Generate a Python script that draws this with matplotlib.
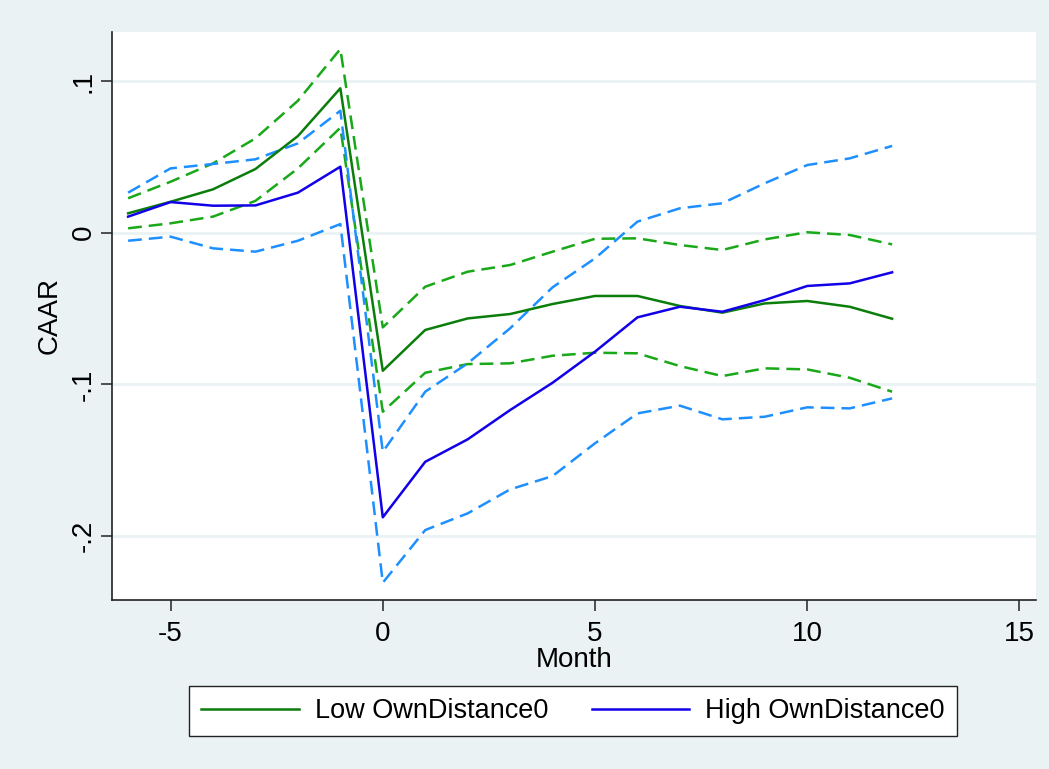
import matplotlib.pyplot as plt
from matplotlib.lines import Line2D

plt.rcParams['font.family'] = ['Liberation Sans', 'DejaVu Sans']
plt.rcParams['axes.unicode_minus'] = False

months = [-6, -5, -4, -3, -2, -1, 0, 1, 2, 3, 4, 5, 6, 7, 8, 9, 10, 11, 12]

# Low OwnDistance0: CAAR with upper / lower band
low_caar = [0.0128, 0.0204, 0.0286, 0.0420, 0.0637, 0.0952, -0.0910, -0.0641, -0.0565,
            -0.0536, -0.0470, -0.0417, -0.0417, -0.0483, -0.0527, -0.0466, -0.0450, -0.0488, -0.0567]
low_hi = [0.0227, 0.0336, 0.0457, 0.0622, 0.0870, 0.1211, -0.0624, -0.0356, -0.0257,
          -0.0213, -0.0125, -0.0040, -0.0037, -0.0081, -0.0114, -0.0044, 0.0003, -0.0015, -0.0077]
low_lo = [0.0029, 0.0062, 0.0106, 0.0210, 0.0424, 0.0692, -0.1180, -0.0923, -0.0866,
          -0.0861, -0.0811, -0.0791, -0.0795, -0.0879, -0.0945, -0.0894, -0.0901, -0.0956, -0.1048]

# High OwnDistance0
high_caar = [0.0106, 0.0202, 0.0178, 0.0180, 0.0264, 0.0435, -0.1876, -0.1510, -0.1362,
             -0.1169, -0.0989, -0.0784, -0.0558, -0.0488, -0.0521, -0.0444, -0.0351, -0.0334, -0.0261]
high_hi = [0.0264, 0.0424, 0.0453, 0.0484, 0.0589, 0.0804, -0.1444, -0.1048, -0.0861,
           -0.0630, -0.0360, -0.0169, 0.0073, 0.0161, 0.0194, 0.0326, 0.0446, 0.0490, 0.0572]
high_lo = [-0.0053, -0.0026, -0.0103, -0.0125, -0.0053, 0.0057, -0.2307, -0.1960, -0.1850,
           -0.1692, -0.1604, -0.1388, -0.1191, -0.1140, -0.1230, -0.1213, -0.1151, -0.1158, -0.1092]

xticks = [-5, 0, 5, 10, 15]
yticks = [-0.2, -0.1, 0, 0.1]
ytick_labels = ['-.2', '-.1', '0', '.1']

bg = '#EAF2F3'
c_low = '#0B7D0B'
c_low_ci = '#18A818'
c_high = '#1200E8'
c_high_ci = '#1E8FFF'
fs = 20

fig = plt.figure(figsize=(10.49, 7.69), dpi=100, facecolor=bg)
ax = fig.add_axes([112 / 1049, 1 - 600 / 769, (1036 - 112) / 1049, (600 - 32) / 769])
ax.set_facecolor('white')

lw = 1.8
dash = (5.5, 2.8)
ax.plot(months, low_hi, color=c_low_ci, lw=lw, dashes=dash)
ax.plot(months, low_lo, color=c_low_ci, lw=lw, dashes=dash)
ax.plot(months, high_hi, color=c_high_ci, lw=lw, dashes=dash)
ax.plot(months, high_lo, color=c_high_ci, lw=lw, dashes=dash)
ax.plot(months, low_caar, color=c_low, lw=lw)
ax.plot(months, high_caar, color=c_high, lw=lw)

ax.set_xlim(-6.38, 15.39)
ax.set_ylim(-0.2421, 0.1323)
ax.set_xticks(xticks)
ax.set_yticks(yticks)
ax.set_yticklabels(ytick_labels, rotation=90, va='center')
ax.grid(axis='y', color=bg, lw=2)
ax.set_axisbelow(True)
for s in ['top', 'right']:
    ax.spines[s].set_visible(False)
for s in ['left', 'bottom']:
    ax.spines[s].set_color('#222222')
    ax.spines[s].set_linewidth(1.2)
ax.tick_params(length=8, width=1.2, color='#333333', labelsize=fs, pad=7)
ax.tick_params(axis='y', pad=3)
ax.set_xlabel('Month', fontsize=fs, labelpad=0)
ax.set_ylabel('CAAR', fontsize=fs, labelpad=6)

handles = [Line2D([], [], color=c_low, lw=lw), Line2D([], [], color=c_high, lw=lw)]
leg = fig.legend(handles, ['Low OwnDistance0', 'High OwnDistance0'], loc='center',
                 bbox_to_anchor=(573 / 1049, 1 - 711 / 769), ncol=2, fontsize=19.5,
                 frameon=True, fancybox=False, framealpha=1, handlelength=3.6,
                 handletextpad=0.6, columnspacing=1.6, borderpad=0.45, borderaxespad=0)
leg.get_frame().set_edgecolor('#222222')
leg.get_frame().set_linewidth(1.0)

fig.savefig('out.png', dpi=100, facecolor=bg)
